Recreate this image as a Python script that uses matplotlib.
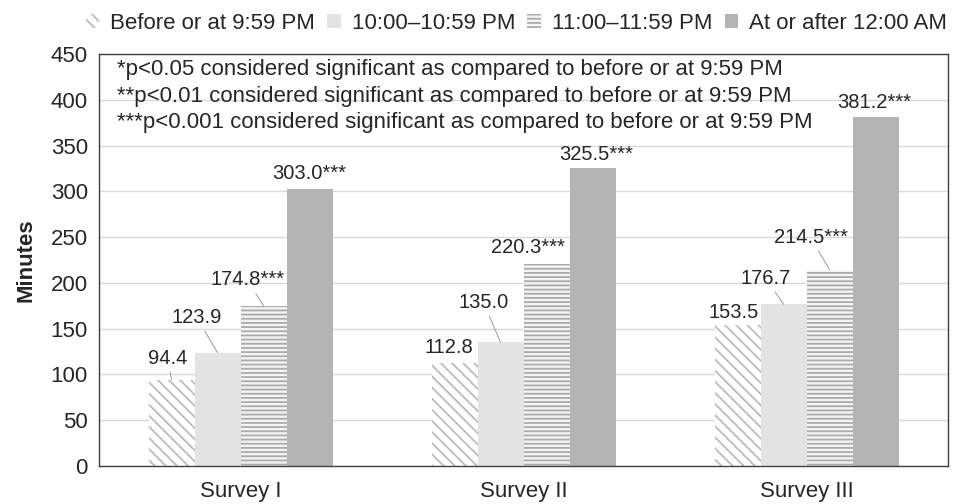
import matplotlib.pyplot as plt
import numpy as np

plt.rcParams['font.family'] = ['Liberation Sans', 'DejaVu Sans']
plt.rcParams['hatch.linewidth'] = 1.3

surveys = ['Survey I', 'Survey II', 'Survey III']
names = ['Before or at 9:59 PM', '10:00\u201310:59 PM', '11:00\u201311:59 PM', 'At or after 12:00 AM']
before_959 = [94.4, 112.8, 153.5]
h10 = [123.9, 135.0, 176.7]
h11 = [174.8, 220.3, 214.5]
after12 = [303.0, 325.5, 381.2]
sig = [['', '', ''], ['', '', ''], ['***', '***', '***'], ['***', '***', '***']]
notes = ['*p<0.05 considered significant as compared to before or at 9:59 PM',
         '**p<0.01 considered significant as compared to before or at 9:59 PM',
         '***p<0.001 considered significant as compared to before or at 9:59 PM']

# label offsets from bar top (pixels), and whether a leader line is drawn
offsets = [[(-4, 21), (-6, 15), (-4, 13)],
           [(-21, 35), (-17, 40), (-18, 26)],
           [(-16, 26), (-19, 17), (-19, 32)],
           [(0, 15), (4, 13), (-1, 14)]]
leaders = [[True, False, False],
           [True, True, True],
           [True, False, True],
           [False, False, False]]

styles = [dict(facecolor='white', edgecolor='#bcbcbc', hatch='\\\\\\'),
          dict(facecolor='#e3e3e3', edgecolor='#e3e3e3'),
          dict(facecolor='#f4f4f4', edgecolor='#ababab', hatch='----'),
          dict(facecolor='#b4b4b4', edgecolor='#b4b4b4')]

fig = plt.figure(figsize=(9.55, 5.04), dpi=100)
ax = fig.add_axes([0.1037, 0.0754, 0.889, 0.8175])

x = np.arange(len(surveys))
w = 0.1625
series = [before_959, h10, h11, after12]
for i, vals in enumerate(series):
    bars = ax.bar(x + (i - 1.5) * w, vals, w, label=names[i], linewidth=0, **styles[i])
    for j, b in enumerate(bars):
        dx, dy = offsets[i][j]
        arrow = None
        if leaders[i][j]:
            arrow = dict(arrowstyle='-', color='#9a9a9a', lw=0.7, shrinkA=1, shrinkB=0)
        ax.annotate(f'{vals[j]:.1f}{sig[i][j]}', xy=(b.get_x() + w / 2, vals[j]),
                    xytext=(dx * 0.72, dy * 0.72), textcoords='offset points',
                    ha='center', va='center', fontsize=14.5, color='#262626',
                    arrowprops=arrow)

# significance notes, line centres ~16, 42, 69 px below the top of the axes
for k, line in enumerate(notes):
    ax.annotate(line, xy=(0, 1), xycoords='axes fraction',
                xytext=(18 * 0.72, -(16 + 26.5 * k) * 0.72), textcoords='offset points',
                ha='left', va='center', fontsize=16, color='#262626')

ax.set_xlim(-0.5, 2.5)
ax.set_ylim(0, 450)
ax.set_yticks(np.arange(0, 451, 50))
ax.set_xticks(x)
ax.set_xticklabels(surveys)
ax.tick_params(length=0, labelsize=16, labelcolor='#262626')
ax.tick_params(axis='y', pad=8)
ax.tick_params(axis='x', pad=11)
ax.grid(axis='y', color='#d9d9d9', lw=1)
ax.set_axisbelow(True)
for s in ax.spines.values():
    s.set_color('#404040')
    s.set_linewidth(1)
ax.set_ylabel('Minutes', fontsize=16, fontweight='bold', labelpad=10, color='#262626')

fig.legend(loc='center right', bbox_to_anchor=(0.9916, 0.954), ncol=4, frameon=False,
           fontsize=16, handlelength=0.6, handleheight=0.6, handletextpad=0.5,
           columnspacing=0.55, borderpad=0, borderaxespad=0, labelcolor='#262626')

fig.savefig('out.png', dpi=100)
